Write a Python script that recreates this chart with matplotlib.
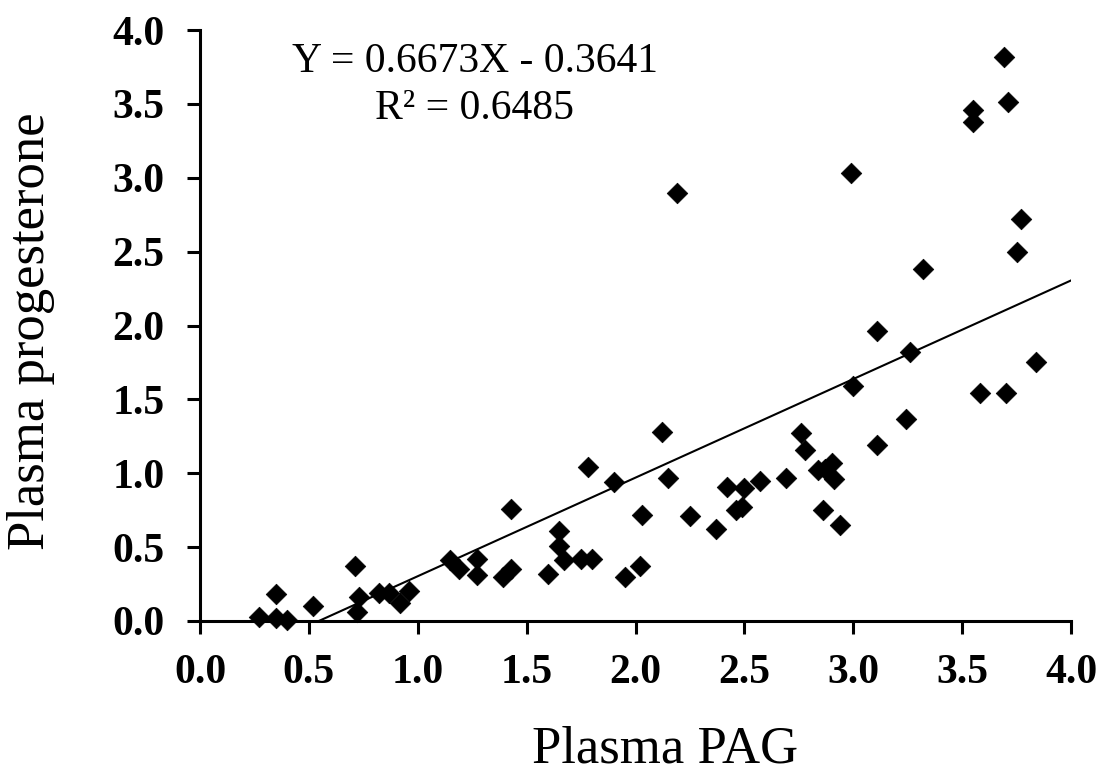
import matplotlib
matplotlib.use("Agg")
import matplotlib.pyplot as plt
import numpy as np
from matplotlib import rcParams

rcParams.update({"font.family": "Liberation Serif"})

# Plasma PAG (x) and plasma progesterone (y)
pag = [0.27, 0.35, 0.35, 0.40, 0.52, 0.71, 0.72, 0.73, 0.82, 0.87,
       0.92, 0.96, 1.15, 1.19, 1.27, 1.27, 1.39, 1.43, 1.43, 1.60,
       1.65, 1.65, 1.67, 1.75, 1.78, 1.80, 1.90, 1.95, 2.02, 2.03,
       2.12, 2.15, 2.19, 2.25, 2.37, 2.42, 2.46, 2.49, 2.50, 2.57,
       2.69, 2.76, 2.78, 2.84, 2.86, 2.87, 2.90, 2.91, 2.94, 2.99,
       3.00, 3.11, 3.11, 3.24, 3.26, 3.32, 3.55, 3.55, 3.58, 3.69,
       3.70, 3.71, 3.75, 3.77, 3.84]
prog = [0.03, 0.18, 0.02, 0.01, 0.10, 0.37, 0.06, 0.16, 0.19, 0.19,
        0.12, 0.20, 0.41, 0.35, 0.42, 0.31, 0.30, 0.35, 0.76, 0.32,
        0.61, 0.51, 0.41, 0.42, 1.04, 0.42, 0.94, 0.30, 0.37, 0.72,
        1.28, 0.97, 2.90, 0.71, 0.62, 0.91, 0.75, 0.77, 0.90, 0.95,
        0.97, 1.27, 1.16, 1.02, 0.75, 1.03, 1.07, 0.96, 0.65, 3.03,
        1.59, 1.96, 1.19, 1.37, 1.82, 2.38, 3.46, 3.38, 1.54, 3.82,
        1.54, 3.51, 2.50, 2.72, 1.75]

slope = 0.6673
intercept = -0.3641
r2 = 0.6485
ticks = [0.0, 0.5, 1.0, 1.5, 2.0, 2.5, 3.0, 3.5, 4.0]

fig = plt.figure(figsize=(11.01, 7.74), dpi=100)
ax = fig.add_axes([0.1817, 0.1977, 0.7911, 0.7635])

ax.scatter(pag, prog, marker='D', s=110, color='black', edgecolors='black',
           linewidths=0.5, zorder=3, clip_on=False)

# trend line, starting where it crosses y = 0
x0 = -intercept / slope
xl = np.array([x0, 4.0])
ax.plot(xl, slope * xl + intercept, color='black', linewidth=1.5, zorder=2)

ax.set_xlim(0, 4)
ax.set_ylim(0, 4)
ax.set_xticks(ticks)
ax.set_yticks(ticks)
ax.set_xticklabels(['%.1f' % t for t in ticks], fontsize=30, fontweight='bold')
ax.set_yticklabels(['%.1f' % t for t in ticks], fontsize=30, fontweight='bold')
ax.tick_params(direction='out', length=9.5, width=2.2)
ax.tick_params(axis='x', pad=14)
ax.tick_params(axis='y', pad=16)

for s in ['top', 'right']:
    ax.spines[s].set_visible(False)
for s in ['left', 'bottom']:
    ax.spines[s].set_linewidth(2.2)

fig.text(0.604, 0.001, 'Plasma PAG', fontsize=38, ha='center', va='bottom')
fig.text(0.0282, 0.5724, 'Plasma progesterone', fontsize=38, rotation=90,
         ha='center', va='center')

fig.text(0.4314, 0.907, 'Y = %.4fX - %.4f' % (slope, -intercept),
         fontsize=30, ha='center', va='baseline')
fig.text(0.4314, 0.8463, 'R² = %.4f' % r2,
         fontsize=30, ha='center', va='baseline')

fig.savefig('out.png', dpi=100)
